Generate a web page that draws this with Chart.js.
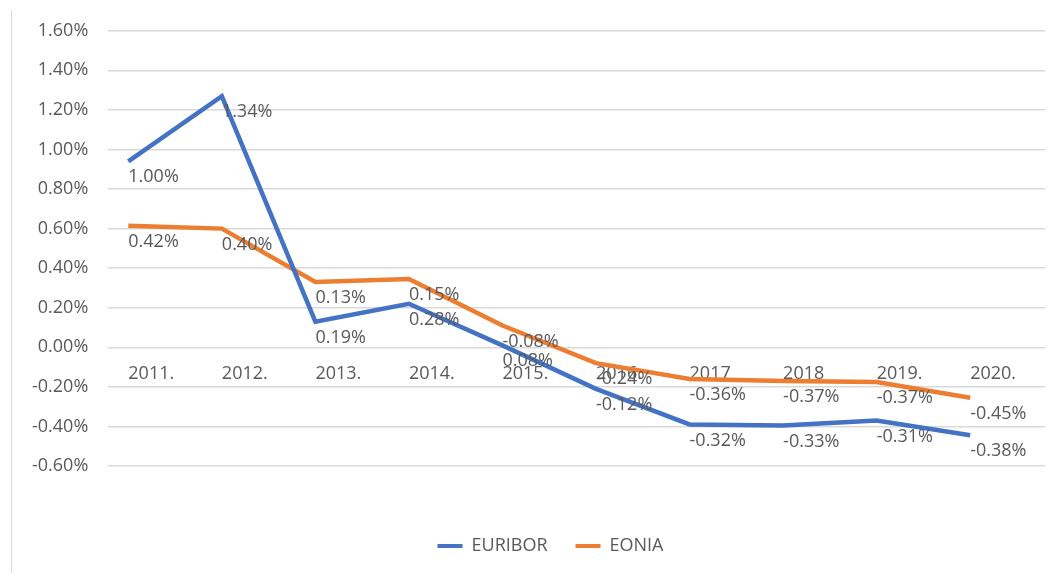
<!DOCTYPE html>
<html>
<head>
<meta charset="utf-8">
<script src="https://cdn.jsdelivr.net/npm/chart.js@4"></script>
<style>
  html, body { margin: 0; padding: 0; background: #fff; overflow: hidden; }
  #wrap { position: relative; width: 1055px; height: 573px; overflow: hidden; }
</style>
</head>
<body>
<div id="wrap"><canvas id="rates" width="1055" height="600"></canvas></div>
<script>
const years = ['2011.', '2012.', '2013.', '2014.', '2015.', '2016.', '2017', '2018', '2019.', '2020.'];
const euribor = [0.94, 1.27, 0.13, 0.22, 0.01, -0.21, -0.39, -0.395, -0.37, -0.445];
const eonia = [0.615, 0.60, 0.33, 0.345, 0.11, -0.08, -0.16, -0.17, -0.175, -0.255];
const euriborLabels = ['1.00%', '1.34%', '0.19%', '0.28%', '0.08%', '-0.12%', '-0.32%', '-0.33%', '-0.31%', '-0.38%'];
const eoniaLabels = ['0.42%', '0.40%', '0.13%', '0.15%', '-0.08%', '-0.24%', '-0.36%', '-0.37%', '-0.37%', '-0.45%'];
const yTicks = [-0.6, -0.4, -0.2, 0, 0.2, 0.4, 0.6, 0.8, 1.0, 1.2, 1.4, 1.6];

const FONT = '"Open Sans", sans-serif';

// value labels drawn under each point, left-aligned like the original
const pointLabels = {
  id: 'pointLabels',
  afterDatasetsDraw(chart) {
    const ctx = chart.ctx;
    ctx.save();
    ctx.font = '18px ' + FONT;
    ctx.fillStyle = '#595959';
    ctx.textAlign = 'left';
    ctx.textBaseline = 'middle';
    chart.data.datasets.forEach((ds, i) => {
      const meta = chart.getDatasetMeta(i);
      meta.data.forEach((pt, j) => {
        ctx.fillText(ds.valueLabels[j], pt.x, pt.y + 16);
      });
    });
    ctx.restore();
  }
};

const frame = {
  id: 'frame',
  beforeDraw(chart) {
    const ctx = chart.ctx;
    ctx.save();
    ctx.strokeStyle = '#d9d9d9';
    ctx.lineWidth = 1;
    ctx.beginPath();
    ctx.moveTo(11.5, 10);
    ctx.lineTo(11.5, 600);
    ctx.stroke();
    ctx.restore();
  },
  // the legend in the original sits a bit right of centre
  afterLayout(chart) {
    chart.legend.left += 22;
    chart.legend.right += 22;
  }
};

const ctx = document.getElementById('rates').getContext('2d');
const myChart = new Chart(ctx, {
  type: 'line',
  data: {
    datasets: [{
      label: 'EURIBOR',
      data: euribor.map((v, i) => ({ x: i, y: v })),
      valueLabels: euriborLabels,
      borderColor: '#4472c4',
      backgroundColor: '#4472c4',
      borderWidth: 4.5,
      pointRadius: 0,
      tension: 0
    },
    {
      label: 'EONIA',
      data: eonia.map((v, i) => ({ x: i, y: v })),
      valueLabels: eoniaLabels,
      borderColor: '#ed7d31',
      backgroundColor: '#ed7d31',
      borderWidth: 4.5,
      pointRadius: 0,
      tension: 0
    }]
  },
  options: {
    responsive: false,
    animation: false,
    layout: { padding: { left: 12, right: 10, top: 22, bottom: 35 } },
    scales: {
      x: {
        type: 'linear',
        position: { y: 0 },
        min: -0.214,
        max: 9.8,
        afterBuildTicks: (scale) => { scale.ticks = years.map((y, i) => ({ value: i })); },
        grid: { display: false, drawTicks: false },
        border: { display: false },
        ticks: {
          align: 'start',
          padding: 16,
          color: '#595959',
          font: { family: FONT, size: 18 },
          maxRotation: 0,
          autoSkip: false,
          callback: (v) => years[v]
        }
      },
      y: {
        min: -0.6,
        max: 1.6,
        afterBuildTicks: (scale) => { scale.ticks = yTicks.map(v => ({ value: v })); },
        grid: { color: '#d9d9d9', lineWidth: 1.5, drawTicks: false },
        border: { display: false },
        ticks: {
          padding: 20,
          color: '#595959',
          font: { family: FONT, size: 18 },
          callback: (v) => v.toFixed(2) + '%'
        }
      }
    },
    plugins: {
      tooltip: { enabled: false },
      legend: {
        position: 'bottom',
        title: { display: true, text: '', font: { size: 10, lineHeight: 1 }, padding: { top: 0, bottom: 33 } },
        labels: {
          boxWidth: 25,
          boxHeight: 4,
          padding: 28,
          color: '#595959',
          font: { family: FONT, size: 18 },
          generateLabels: (chart) => Chart.defaults.plugins.legend.labels.generateLabels(chart)
            .map(item => Object.assign(item, { lineWidth: 0 }))
        }
      }
    }
  },
  plugins: [pointLabels, frame]
});
</script>
</body>
</html>
